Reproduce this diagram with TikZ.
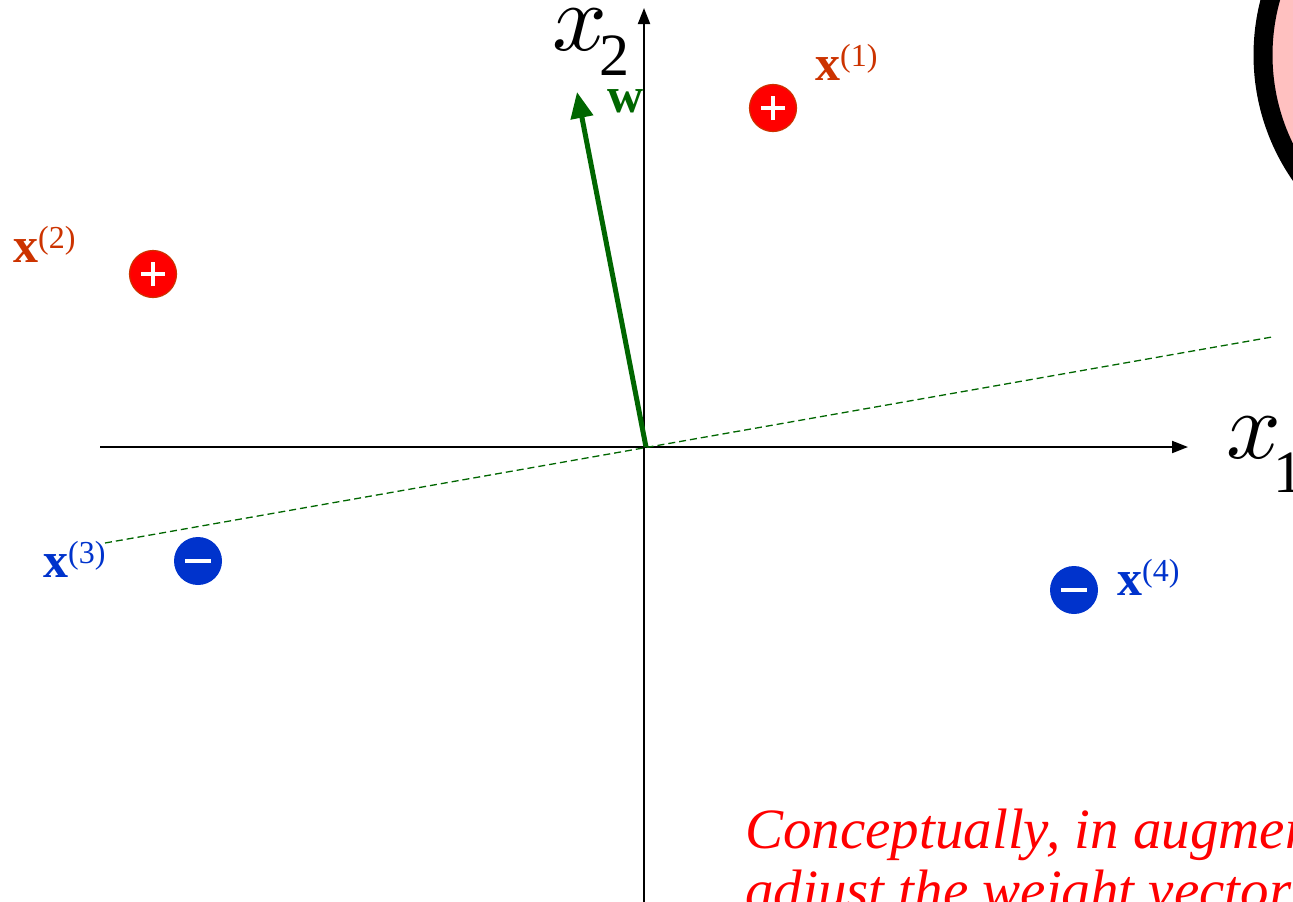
\documentclass[tikz,border=0pt]{standalone}
\usepackage{fontspec}
\setmainfont{Liberation Serif}
\usetikzlibrary{arrows.meta}

\begin{document}
\begin{tikzpicture}[x=1pt, y=-1pt,
  axis/.style={line width=2pt, -{Triangle[length=16pt,width=12pt]}},
  ptpos/.style={circle, fill=ptred, draw=lblred, line width=1.2pt, minimum size=47pt, inner sep=0pt,
    path picture={\draw[white, line width=3.2pt]
      ([xshift=-12pt]path picture bounding box.center) -- ([xshift=12pt]path picture bounding box.center)
      ([yshift=-12pt]path picture bounding box.center) -- ([yshift=12pt]path picture bounding box.center);}},
  ptneg/.style={circle, fill=ptblue, minimum size=48pt, inner sep=0pt,
    path picture={\draw[white, line width=4.5pt]
      ([xshift=-13pt]path picture bounding box.center) -- ([xshift=13pt]path picture bounding box.center);}},
  ptlbl/.style={anchor=base west, inner sep=0pt, font=\fontsize{50}{60}\selectfont\bfseries},
  axlbl/.style={anchor=base west, inner sep=0pt, font=\fontsize{10}{12}\selectfont}
]
% --- CORES ---
\definecolor{ptred}{HTML}{FF0000}
\definecolor{lblred}{HTML}{CC3300}
\definecolor{ptblue}{HTML}{0033CC}
\definecolor{wgreen}{HTML}{006600}
\definecolor{ringpink}{HTML}{FFC0C0}

\clip (0,0) rectangle (1293,902);

% LAYER 1: circulo no canto
\draw[line width=19pt, fill=ringpink] (1474,55) circle (211);

% LAYER 2: eixos
\coordinate (O) at (646,447);
\coordinate (x1end) at (1188,447);
\coordinate (x1start) at (100,447);
\coordinate (x2end) at (644,8);
\coordinate (x2start) at (644,910);
\draw[axis] (x1start) -- (x1end);
\draw[axis] (x2start) -- (x2end);
\node[axlbl] (x1lbl) at (1226,458) {\scalebox{9.6}{$x$}\kern-8pt\raisebox{-34pt}{\fontsize{60}{60}\selectfont 1}};
\node[axlbl] (x2lbl) at (552,50) {\scalebox{9.6}{$x$}\kern-8pt\raisebox{-25pt}{\fontsize{60}{60}\selectfont 2}};

% LAYER 3: fronteira e vetor de pesos
\coordinate (bndA) at (105,543);
\coordinate (bndB) at (1272,337);
\draw[wgreen, line width=1.3pt, dash pattern=on 7pt off 4pt] (bndA) -- (bndB);
\coordinate (wtip) at (577,92);
\draw[wgreen, line width=5pt, -{Triangle[length=26pt,width=22pt]}] (O) -- (wtip);
\node[ptlbl, text=wgreen] (wlbl) at (607,112) {w};

% LAYER 4: pontos
\node[ptpos] (p1) at (773,108) {};
\node[ptpos] (p2) at (153,274) {};
\node[ptneg] (p3) at (198,561) {};
\node[ptneg] (p4) at (1074,590) {};

\node[ptlbl, text=lblred] (l1) at (815,80) {x\raisebox{14pt}{\fontsize{32}{32}\selectfont\mdseries(1)}};
\node[ptlbl, text=lblred] (l2) at (13,262) {x\raisebox{14pt}{\fontsize{32}{32}\selectfont\mdseries(2)}};
\node[ptlbl, text=ptblue] (l3) at (43,577) {x\raisebox{14pt}{\fontsize{32}{32}\selectfont\mdseries(3)}};
\node[ptlbl, text=ptblue] (l4) at (1117,595) {x\raisebox{14pt}{\fontsize{32}{32}\selectfont\mdseries(4)}};

% LAYER 5: texto
\node[anchor=base west, inner sep=0pt, text=ptred, align=left,
  font=\fontsize{57}{61}\selectfont\itshape] (note) at (745,909)
  {Conceptually, in augmented\\adjust the weight vector};
\end{tikzpicture}
\end{document}
